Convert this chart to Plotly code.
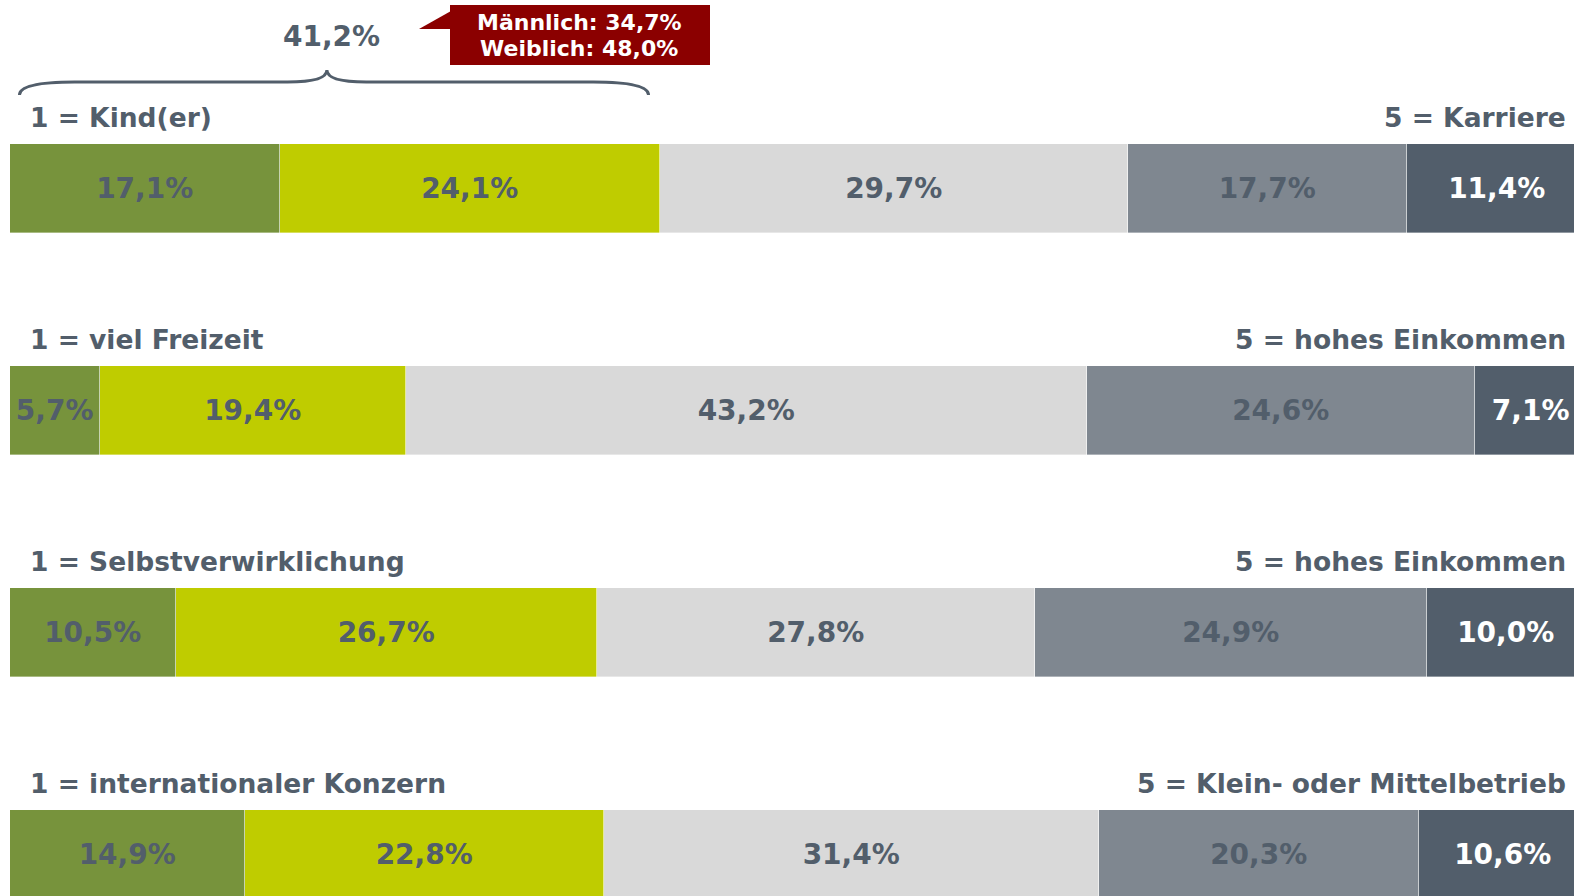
import plotly.graph_objects as go

# ---- data ----
rows = [0, 1, 2, 3]
left_labels = ["1 = Kind(er)", "1 = viel Freizeit", "1 = Selbstverwirklichung", "1 = internationaler Konzern"]
right_labels = ["5 = Karriere", "5 = hohes Einkommen", "5 = hohes Einkommen", "5 = Klein- oder Mittelbetrieb"]
s1 = [17.1, 5.7, 10.5, 14.9]
s2 = [24.1, 19.4, 26.7, 22.8]
s3 = [29.7, 43.2, 27.8, 31.4]
s4 = [17.7, 24.6, 24.9, 20.3]
s5 = [11.4, 7.1, 10.0, 10.6]
brace_label = "41,2%"
callout_lines = ["Männlich: 34,7%", "Weiblich: 48,0%"]

series = [s1, s2, s3, s4, s5]
colors = ["#77933C", "#BFCC00", "#D9D9D9", "#7F8790", "#525E6B"]
text_colors = ["#525E6B", "#525E6B", "#525E6B", "#525E6B", "#FFFFFF"]
TXT = "#525E6B"
FONT = "DejaVu Sans"

W, H = 1574, 896
ML = 10
XMAX = 99.2          # the bars run slightly past the right page edge
PX_PER_ROW = 222.0
ROW0_PX = 188.0


def fmt(v):
    return f"{v:.1f}".replace(".", ",") + "%"


fig = go.Figure()
for vals, col, tcol in zip(series, colors, text_colors):
    fig.add_trace(go.Bar(
        y=rows, x=vals, orientation="h",
        marker=dict(color=col, line=dict(width=0.6, color="rgba(255,255,255,0.6)")),
        width=89 / PX_PER_ROW,
        text=[fmt(v) for v in vals],
        textposition="inside", insidetextanchor="middle",
        textfont=dict(family=FONT, size=28, color=tcol, weight="bold"),
        hoverinfo="skip", showlegend=False,
    ))

y_top = -ROW0_PX / PX_PER_ROW
y_bot = (H - ROW0_PX) / PX_PER_ROW


def py(page_px):
    return (page_px - ROW0_PX) / PX_PER_ROW


def px_x(page_px):
    return (page_px - ML) / (W - ML) * XMAX


annotations = []
label_off = -71 / PX_PER_ROW
for r, ll, rl in zip(rows, left_labels, right_labels):
    annotations.append(dict(x=0, xref="x", xshift=18, y=r + label_off, yref="y",
                            text=ll, showarrow=False, xanchor="left", yanchor="middle",
                            font=dict(family=FONT, size=26.5, color=TXT, weight="bold")))
    annotations.append(dict(x=1, xref="paper", xshift=-6, y=r + label_off, yref="y",
                            text=rl, showarrow=False, xanchor="right", yanchor="middle",
                            font=dict(family=FONT, size=26.5, color=TXT, weight="bold")))

# brace over first two segments
b0 = 0.6
b1 = s1[0] + s2[0] - 0.7
bm = (b0 + b1) / 2 - 0.45
ye, ym, yt = py(95), py(82), py(70)
brace = (f"M {b0},{ye} Q {b0},{ym} {b0+3.5},{ym} "
         f"L {bm-2.5},{ym} Q {bm},{ym} {bm},{yt} "
         f"Q {bm},{ym} {bm+2.5},{ym} "
         f"L {b1-3.5},{ym} Q {b1},{ym} {b1},{ye}")
shapes = [dict(type="path", path=brace, xref="x", yref="y",
               line=dict(color=TXT, width=3))]
annotations.append(dict(x=bm, xref="x", xshift=5, y=py(36), yref="y", text=brace_label,
                        showarrow=False, xanchor="center", yanchor="middle",
                        font=dict(family=FONT, size=28, color=TXT, weight="bold")))

# callout box
shapes.append(dict(type="rect", xref="x", yref="y", x0=px_x(450), x1=px_x(710),
                   y0=py(5), y1=py(65), fillcolor="#8B0000", line=dict(width=0)))
shapes.append(dict(type="path", xref="x", yref="y",
                   path=f"M {px_x(419)},{py(29)} L {px_x(451)},{py(11)} L {px_x(451)},{py(29)} Z",
                   fillcolor="#8B0000", line=dict(width=0)))
for i, t in enumerate(callout_lines):
    annotations.append(dict(x=px_x(579), xref="x", y=py(22 + 26 * i), yref="y", text=t,
                            showarrow=False, xanchor="center", yanchor="middle",
                            font=dict(family=FONT, size=22, color="white", weight="bold")))

fig.update_layout(
    width=W, height=H,
    margin=dict(l=ML, r=0, t=0, b=0),
    barmode="stack", bargap=0,
    plot_bgcolor="white", paper_bgcolor="white",
    xaxis=dict(range=[0, XMAX], visible=False, fixedrange=True),
    yaxis=dict(range=[y_bot, y_top], visible=False, fixedrange=True),
    shapes=shapes, annotations=annotations,
    uniformtext=dict(mode="show", minsize=28),
)
fig.write_html(
    "out.html",
    config={"displayModeBar": False},
    post_script="document.body.style.margin='0';document.body.style.overflow='hidden';",
)
